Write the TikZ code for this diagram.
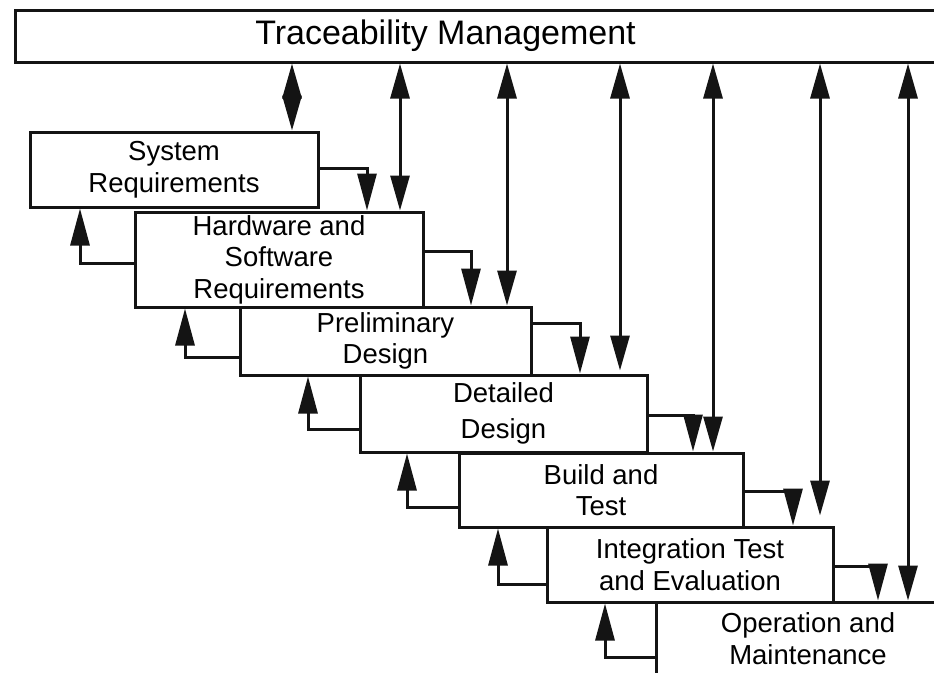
\documentclass[tikz,border=0pt]{standalone}
\usepackage{fontspec}
\setmainfont{Liberation Sans}
\usepackage{xcolor}
\usepackage{tikz}
\usetikzlibrary{positioning,arrows.meta,calc}
\definecolor{InkBlack}{RGB}{20,20,20}

\begin{document}
\begin{tikzpicture}[
  x=1pt, y=-1pt,
  font=\fontsize{27.5}{31.5}\selectfont,
  stage/.style={draw=InkBlack, fill=white, line width=3pt, inner sep=0pt, align=center},
  flow/.style={-{Triangle[length=37pt,width=19pt]}, line width=3pt, color=InkBlack},
  tracelink/.style={{Triangle[length=35pt,width=19pt]}-{Triangle[length=35pt,width=19pt]}, line width=3pt, color=InkBlack}
]
\clip (0,0) rectangle (934,672);
\fill[white] (0,0) rectangle (934,672);

\node[stage, minimum width=945pt, minimum height=52pt,
  label={[font=\fontsize{34}{40}\selectfont, xshift=-42pt]center:Traceability Management}] (trace) at (487.5,36) {};

\node[stage, minimum width=288pt, minimum height=75pt] (sysreq) at (174,169.5) {System\\Requirements};
\node[stage, minimum width=288pt, minimum height=95pt] (hwsw) at (279,259.5) {Hardware and\\Software\\Requirements};
\node[stage, minimum width=291pt, minimum height=68pt] (prelim) at (385.5,341) {Preliminary\\Design};
\node[stage, minimum width=287pt, minimum height=77pt] (detail) at (503.5,413.5) {Detailed\\[4pt]Design};
\node[stage, minimum width=284pt, minimum height=74pt] (build) at (601,490) {Build and\\Test};
\node[stage, minimum width=286pt, minimum height=75pt] (integ) at (690,564.5) {Integration Test\\and Evaluation};
\node[stage, minimum width=303pt, minimum height=73pt] (oper) at (808,638.5) {Operation and\\Maintenance};

% links to traceability management
\foreach \stagename/\dx/\gap in {sysreq/118/0, hwsw/121/0, prelim/121.5/0, detail/116.5/3, build/112/0, integ/130/10, oper/100/0} {
  \coordinate (tr-\stagename) at ([xshift=\dx pt]\stagename.north);
  \draw[tracelink, shorten >=\gap pt] (trace.south -| tr-\stagename) -- (tr-\stagename);
}

% forward flow
\draw[flow] ([yshift=1.5pt]sysreq.east) -| ([xshift=88pt]hwsw.north);
\draw[flow] ([yshift=8.5pt]hwsw.east) -| ([xshift=85.5pt]prelim.north);
\draw[flow] ([yshift=18pt]prelim.east) -| ([xshift=76.5pt]detail.north);
\draw[flow] ([yshift=-1.5pt]detail.east) -| ([xshift=92pt]build.north);
\draw[flow] ([yshift=-1pt]build.east) -| ([xshift=103pt]integ.north);
\draw[flow] ([yshift=-1.5pt]integ.east) -| ([xshift=70pt]oper.north);

% feedback
\draw[flow] ([yshift=-3.5pt]hwsw.west) -| ([xshift=-94pt]sysreq.south);
\draw[flow] ([yshift=-16pt]prelim.west) -| ([xshift=-94pt]hwsw.south);
\draw[flow] ([yshift=-15.5pt]detail.west) -| ([xshift=-77.5pt]prelim.south);
\draw[flow] ([yshift=-17pt]build.west) -| ([xshift=-96.5pt]detail.south);
\draw[flow] ([yshift=-19.5pt]integ.west) -| ([xshift=-103pt]build.south);
\draw[flow] ([yshift=-18.5pt]oper.west) -| ([xshift=-85pt]integ.south);
\end{tikzpicture}
\end{document}
